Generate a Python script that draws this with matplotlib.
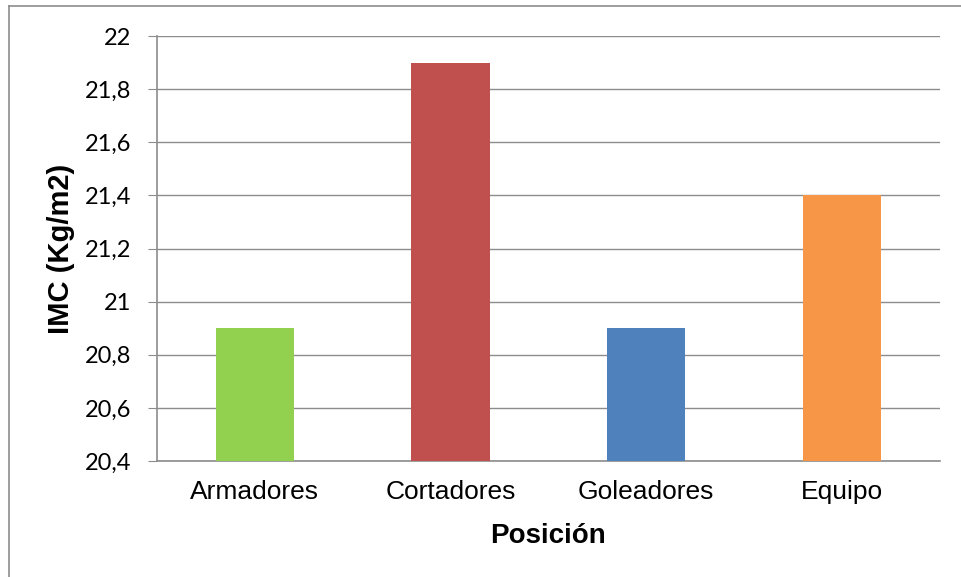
import matplotlib.pyplot as plt
from matplotlib.lines import Line2D

# data
posiciones = ['Armadores', 'Cortadores', 'Goleadores', 'Equipo']
imc = [20.9, 21.9, 20.9, 21.4]
colores = ['#92D050', '#C0504D', '#4F81BD', '#F79646']
yticks = [20.4, 20.6, 20.8, 21.0, 21.2, 21.4, 21.6, 21.8, 22.0]
ytick_labels = ['20,4', '20,6', '20,8', '21', '21,2', '21,4', '21,6', '21,8', '22']

plt.rcParams['font.family'] = ['Liberation Sans', 'DejaVu Sans']

fig = plt.figure(figsize=(9.61, 5.77), dpi=100)
ax = fig.add_axes([0.1634, 0.201, 0.8146, 0.7366])

x = range(len(posiciones))
ax.bar(x, [v - 20.4 for v in imc], bottom=20.4, width=0.4, color=colores, zorder=3)

ax.set_xlim(-0.5, len(posiciones) - 0.5)
ax.set_ylim(20.4, 22)
ax.set_yticks(yticks)
ax.set_yticklabels(ytick_labels, fontsize=17, family=['Lato', 'DejaVu Sans'])
ax.set_xticks(list(x))
ax.set_xticklabels(posiciones, fontsize=19)
ax.yaxis.grid(True, color='#8c8c8c', linewidth=1, zorder=0)

for s in ['top', 'right']:
    ax.spines[s].set_visible(False)
for s in ['left', 'bottom']:
    ax.spines[s].set_color('#8c8c8c')
    ax.spines[s].set_linewidth(1.2)

ax.tick_params(axis='y', length=6.5, color='#8c8c8c', pad=12)
ax.tick_params(axis='x', length=0, pad=14)

ax.set_xlabel('Posición', fontsize=20, fontweight='bold', labelpad=13)
ax.set_ylabel('IMC (Kg/m2)', fontsize=21, fontweight='bold', labelpad=7)

# outer chart border (only left and top visible)
fig.add_artist(Line2D([9 / 961, 9 / 961], [0, 1 - 6 / 577], color='#8c8c8c', linewidth=1.2))
fig.add_artist(Line2D([9 / 961, 1], [1 - 6 / 577, 1 - 6 / 577], color='#8c8c8c', linewidth=1.2))

fig.savefig('out.png', dpi=100)
